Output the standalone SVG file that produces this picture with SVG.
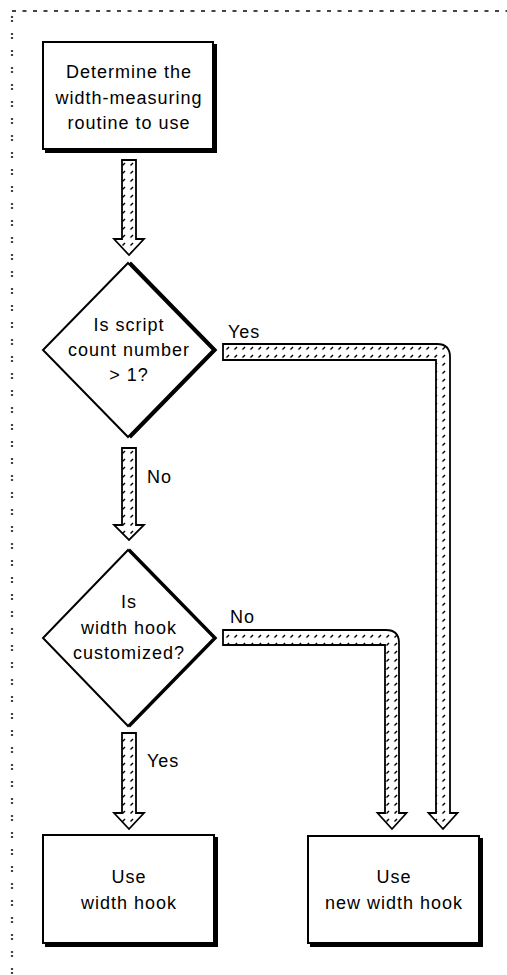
<svg xmlns="http://www.w3.org/2000/svg" width="507" height="975" viewBox="0 0 507 975">
<defs>
<pattern id="hatch" width="8" height="8" patternUnits="userSpaceOnUse">
<rect width="8" height="8" fill="#fff"/>
<path d="M2.5,5.5 L5,3" stroke="#000" stroke-width="1.4"/>
</pattern>
</defs>
<style>
.frame{fill:none;stroke:#444;stroke-width:2.2}
.box{fill:#fff;stroke:#000;stroke-width:2}
.shadow{fill:#000;stroke:#000;stroke-width:2}
.conn{fill:url(#hatch);stroke:#000;stroke-width:1.8;stroke-linejoin:miter}
.t{font-family:"Liberation Sans",Arial,sans-serif;font-size:18px;letter-spacing:1px;fill:#000;text-anchor:middle}
.lbl{font-family:"Liberation Sans",Arial,sans-serif;font-size:18px;letter-spacing:1px;fill:#000}
</style>
<rect width="507" height="975" fill="#fff"/>
<g id="frame">
<line class="frame" x1="12" y1="11" x2="507" y2="11" stroke-dasharray="4 6.5"/>
<line class="frame" x1="12" y1="16" x2="12" y2="975" stroke-dasharray="2 2 2 11"/>
</g>
<g id="connectors">
<path class="conn" d="M122,160 H136 V239 H144 L129,255 L114,239 H122 Z"/>
<path class="conn" d="M122,448 H136 V525 H144 L129,540 L114,525 H122 Z"/>
<path class="conn" d="M122,733 H136 V813 H144 L129,829 L114,813 H122 Z"/>
<path class="conn" d="M223,344 H437 Q450,344 450,357 V813 H457.5 L443,829 L428.5,813 H436 V360 H223 Z"/>
<path class="conn" d="M223,630 H386 Q399,630 399,643 V813 H406.5 L392,829 L377.5,813 H385 V645 H223 Z"/>
<text class="lbl" x="228" y="338">Yes</text>
<text class="lbl" x="147" y="483">No</text>
<text class="lbl" x="230" y="623">No</text>
<text class="lbl" x="147" y="767">Yes</text>
</g>
<g id="start">
<rect class="shadow" x="46" y="45" width="170" height="107"/>
<rect class="box" x="43" y="42" width="170" height="107"/>
<text class="t" x="129" y="78">Determine the</text>
<text class="t" x="129" y="104">width-measuring</text>
<text class="t" x="129" y="129">routine to use</text>
</g>
<g id="decision1">
<polygon class="shadow" points="131,263 216,350 131,437 46,350"/>
<polygon class="box" points="128,263 213,350 128,437 43,350"/>
<text class="t" x="129" y="331">Is script</text>
<text class="t" x="129" y="356">count number</text>
<text class="t" x="129" y="381">&gt; 1?</text>
</g>
<g id="decision2">
<polygon class="shadow" points="130,550 216,638 130,726 45,638"/>
<polygon class="box" points="128,550 214,638 128,726 43,638"/>
<text class="t" x="129" y="608">Is</text>
<text class="t" x="129" y="634">width hook</text>
<text class="t" x="129" y="659">customized?</text>
</g>
<g id="use-width-hook">
<rect class="shadow" x="46" y="838" width="171" height="108"/>
<rect class="box" x="43" y="835" width="171" height="108"/>
<text class="t" x="129" y="883">Use</text>
<text class="t" x="129" y="909">width hook</text>
</g>
<g id="use-new-width-hook">
<rect class="shadow" x="311" y="839" width="171" height="107"/>
<rect class="box" x="308" y="836" width="171" height="107"/>
<text class="t" x="394" y="883">Use</text>
<text class="t" x="394" y="909">new width hook</text>
</g>
</svg>
